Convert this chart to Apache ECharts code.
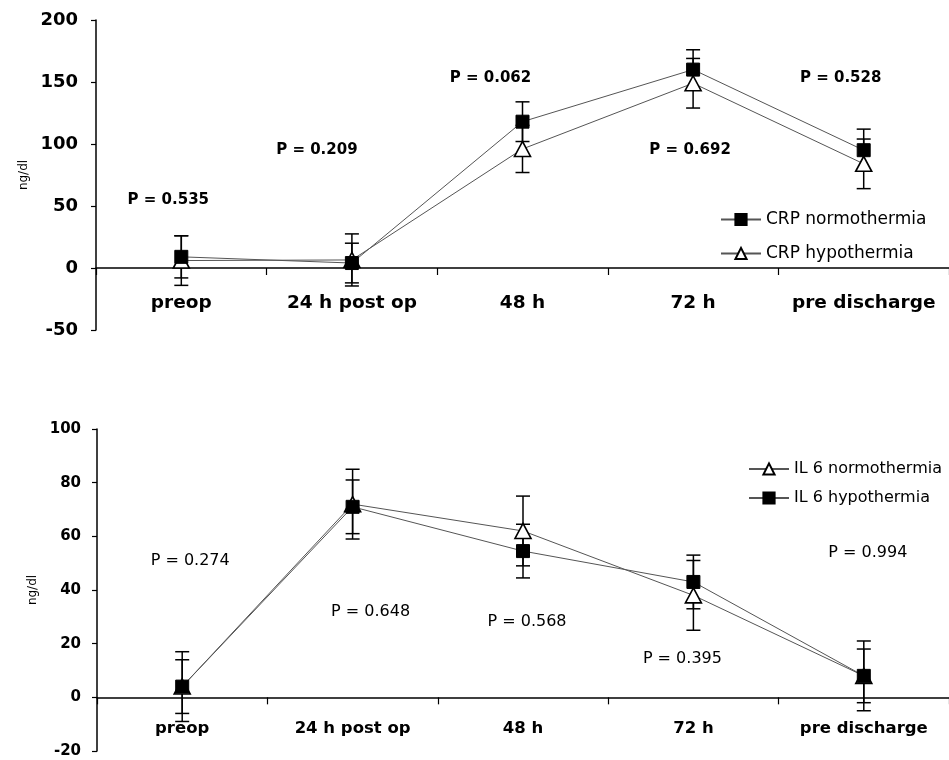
<!DOCTYPE html>
<html>
<head>
<meta charset="utf-8">
<script src="https://cdn.jsdelivr.net/npm/echarts@6/dist/echarts.min.js"></script>
<style>
html,body{margin:0;padding:0;background:#fff;}
#c{width:949px;height:760px;}
</style>
</head>
<body>
<div id="c"></div>
<script>
// ---- data ----
const categories = ['preop', '24 h post op', '48 h', '72 h', 'pre discharge'];

const crpNormo = [9, 4, 118, 160, 95];
const crpNormoErr = [17, 16, 16, 16, 17];
const crpHypo = [6, 6.5, 96, 149, 84];
const crpHypoErr = [20, 21, 19, 20, 20];
const crpP = ['0.535', '0.209', '0.062', '0.692', '0.528'];
const crpPY = [55, 95, 153, 95, 153];

const ilNormo = [4, 72, 62, 38, 8];
const ilNormoErr = [13, 13, 13, 13, 13];
const ilHypo = [4, 71, 54.5, 43, 8];
const ilHypoErr = [10, 10, 10, 10, 10];
const ilP = ['0.274', '0.648', '0.568', '0.395', '0.994'];
const ilPY = [51, 32, 28, 14.5, 54];

const crpTicks = {min: -50, max: 200, interval: 50};
const ilTicks = {min: -20, max: 100, interval: 20};

// ---- layout ----
const grids = [
  {left: 96, top: 20, width: 860, height: 310},
  {left: 97, top: 429, width: 858, height: 322}
];
const ticks = [crpTicks, ilTicks];
// distance (px) from grid bottom up to the zero line, so the x axis sits on zero
function zeroOffset(i) {
  const t = ticks[i], g = grids[i];
  return -g.height * (0 - t.min) / (t.max - t.min);
}

// ---- helpers ----
const FONT = 'DejaVu Sans';
function errData(mean, err) {
  return mean.map((m, i) => [i, m - err[i], m + err[i]]);
}
function errRender(params, api) {
  const x = api.value(0);
  const lo = api.coord([x, api.value(1)]);
  const hi = api.coord([x, api.value(2)]);
  const w = 7;
  const st = {stroke: '#000', lineWidth: 1.5};
  return {
    type: 'group',
    children: [
      {type: 'line', shape: {x1: lo[0], y1: lo[1], x2: hi[0], y2: hi[1]}, style: st},
      {type: 'line', shape: {x1: lo[0] - w, y1: lo[1], x2: lo[0] + w, y2: lo[1]}, style: st},
      {type: 'line', shape: {x1: hi[0] - w, y1: hi[1], x2: hi[0] + w, y2: hi[1]}, style: st}
    ]
  };
}
function errSeries(mean, err, ax) {
  return {
    type: 'custom', xAxisIndex: ax, yAxisIndex: ax, z: 1, silent: true,
    renderItem: errRender, data: errData(mean, err)
  };
}
const squareStyle = {color: '#000', borderColor: '#000', borderWidth: 1};
const triStyle = {color: '#fff', borderColor: '#000', borderWidth: 1.6};
const lineSt = {color: '#555', width: 1};

function pSeries(vals, ys, ax, offsets, fontSize, weight) {
  return {
    type: 'scatter', xAxisIndex: ax, yAxisIndex: ax, silent: true, z: 5,
    symbolSize: 0, itemStyle: {color: '#000', opacity: 1},
    data: vals.map((v, i) => ({value: [i, ys[i]], name: v, label: {offset: [offsets[i], 0]}})),
    label: {
      show: true, position: 'inside', formatter: p => 'P = ' + p.name,
      fontFamily: FONT, fontSize: fontSize, fontWeight: weight, color: '#000',
      textBorderWidth: 0, opacity: 1
    }
  };
}

const chart = echarts.init(document.getElementById('c'), null, {renderer: 'canvas'});
const option = {
  animation: false,
  backgroundColor: '#fff',
  grid: grids,
  xAxis: [0, 1].map(i => ({
    type: 'category', gridIndex: i, data: categories, boundaryGap: true,
    position: 'bottom', offset: zeroOffset(i),
    axisLine: {onZero: false, lineStyle: {color: '#000', width: 1.5}},
    axisTick: {show: true, length: 7, lineStyle: {color: '#000', width: 1.2}},
    axisLabel: {
      color: '#000', fontFamily: FONT, fontWeight: 'bold',
      fontSize: i === 0 ? 18.5 : 16.5, margin: i === 0 ? 26 : 23, interval: 0
    },
    splitLine: {show: false}
  })),
  yAxis: [
    {
      type: 'value', gridIndex: 0, min: crpTicks.min, max: crpTicks.max, interval: crpTicks.interval,
      name: 'ng/dl', nameLocation: 'middle', nameGap: 64, nameRotate: 90,
      nameTextStyle: {fontFamily: FONT, fontSize: 12, color: '#000'},
      axisLine: {show: true, lineStyle: {color: '#000', width: 1.5}},
      axisTick: {show: true, length: 5, lineStyle: {color: '#000', width: 1.2}},
      axisLabel: {color: '#000', fontFamily: FONT, fontWeight: 'bold', fontSize: 18, margin: 18},
      splitLine: {show: false}
    },
    {
      type: 'value', gridIndex: 1, min: ilTicks.min, max: ilTicks.max, interval: ilTicks.interval,
      name: 'ng/dl', nameLocation: 'middle', nameGap: 57, nameRotate: 90,
      nameTextStyle: {fontFamily: FONT, fontSize: 12, color: '#000'},
      axisLine: {show: true, lineStyle: {color: '#000', width: 1.5}},
      axisTick: {show: true, length: 5, lineStyle: {color: '#000', width: 1.2}},
      axisLabel: {color: '#000', fontFamily: FONT, fontWeight: 'bold', fontSize: 15, margin: 16},
      splitLine: {show: false}
    }
  ],
  legend: [
    {
      orient: 'vertical', left: 715, top: 206, itemWidth: 40, itemHeight: 14, itemGap: 17,
      data: ['CRP normothermia', 'CRP hypothermia'],
      textStyle: {fontFamily: FONT, fontSize: 17, color: '#000'}
    },
    {
      orient: 'vertical', left: 743, top: 456, itemWidth: 40, itemHeight: 14, itemGap: 13,
      data: ['IL 6 normothermia', 'IL 6 hypothermia'],
      textStyle: {fontFamily: FONT, fontSize: 16, color: '#000'}
    }
  ],
  series: [
    errSeries(crpNormo, crpNormoErr, 0),
    errSeries(crpHypo, crpHypoErr, 0),
    {
      name: 'CRP hypothermia', type: 'line', xAxisIndex: 0, yAxisIndex: 0, z: 3,
      data: crpHypo, symbol: 'triangle', symbolSize: [16, 15],
      itemStyle: triStyle, lineStyle: lineSt
    },
    {
      name: 'CRP normothermia', type: 'line', xAxisIndex: 0, yAxisIndex: 0, z: 4,
      data: crpNormo, symbol: 'rect', symbolSize: 13,
      itemStyle: squareStyle, lineStyle: lineSt
    },
    pSeries(crpP, crpPY, 0, [-13, -35, -32, -3, -23], 15, 'bold'),

    errSeries(ilNormo, ilNormoErr, 1),
    errSeries(ilHypo, ilHypoErr, 1),
    {
      name: 'IL 6 normothermia', type: 'line', xAxisIndex: 1, yAxisIndex: 1, z: 3,
      data: ilNormo, symbol: 'triangle', symbolSize: [16, 15],
      itemStyle: triStyle, lineStyle: lineSt
    },
    {
      name: 'IL 6 hypothermia', type: 'line', xAxisIndex: 1, yAxisIndex: 1, z: 4,
      data: ilHypo, symbol: 'rect', symbolSize: 13,
      itemStyle: squareStyle, lineStyle: lineSt
    },
    pSeries(ilP, ilPY, 1, [8, 18, 4, -11, 4], 16, 'normal')
  ]
};
chart.setOption(option);
</script>
</body>
</html>
